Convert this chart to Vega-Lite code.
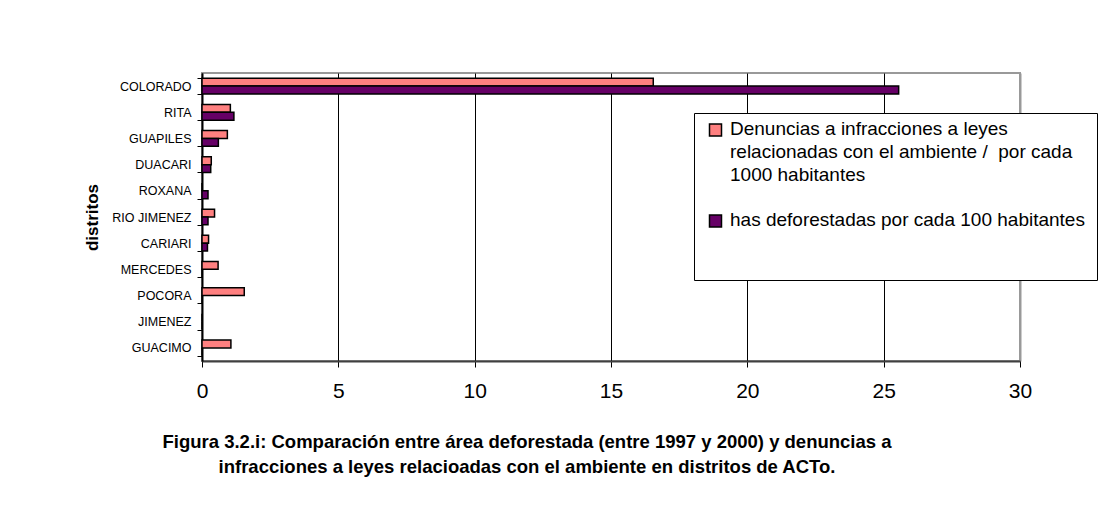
{
  "$schema": "https://vega.github.io/schema/vega-lite/v6.json",
  "width": 818,
  "height": 288,
  "autosize": "none",
  "padding": {"left": 202, "top": 73, "right": 81, "bottom": 157},
  "background": "white",
  "title": {
    "text": ["Figura 3.2.i: Comparación entre área deforestada (entre 1997 y 2000) y denuncias a", "infracciones a leyes relacioadas con el ambiente en distritos de ACTo."],
    "orient": "bottom",
    "anchor": "middle",
    "font": "Liberation Sans",
    "fontSize": 18.5,
    "fontWeight": "bold",
    "color": "black",
    "offset": 32,
    "dx": -84,
    "lineHeight": 25
  },
  "data": {
    "values": [
      {"distrito": "COLORADO", "serie": "Denuncias a infracciones a leyes relacionadas con el ambiente /  por cada 1000 habitantes", "valor": 16.55},
      {"distrito": "COLORADO", "serie": "has deforestadas por cada 100 habitantes", "valor": 25.55},
      {"distrito": "RITA", "serie": "Denuncias a infracciones a leyes relacionadas con el ambiente /  por cada 1000 habitantes", "valor": 1.04},
      {"distrito": "RITA", "serie": "has deforestadas por cada 100 habitantes", "valor": 1.17},
      {"distrito": "GUAPILES", "serie": "Denuncias a infracciones a leyes relacionadas con el ambiente /  por cada 1000 habitantes", "valor": 0.93},
      {"distrito": "GUAPILES", "serie": "has deforestadas por cada 100 habitantes", "valor": 0.6},
      {"distrito": "DUACARI", "serie": "Denuncias a infracciones a leyes relacionadas con el ambiente /  por cada 1000 habitantes", "valor": 0.34},
      {"distrito": "DUACARI", "serie": "has deforestadas por cada 100 habitantes", "valor": 0.32},
      {"distrito": "ROXANA", "serie": "Denuncias a infracciones a leyes relacionadas con el ambiente /  por cada 1000 habitantes", "valor": 0},
      {"distrito": "ROXANA", "serie": "has deforestadas por cada 100 habitantes", "valor": 0.22},
      {"distrito": "RIO JIMENEZ", "serie": "Denuncias a infracciones a leyes relacionadas con el ambiente /  por cada 1000 habitantes", "valor": 0.46},
      {"distrito": "RIO JIMENEZ", "serie": "has deforestadas por cada 100 habitantes", "valor": 0.22},
      {"distrito": "CARIARI", "serie": "Denuncias a infracciones a leyes relacionadas con el ambiente /  por cada 1000 habitantes", "valor": 0.24},
      {"distrito": "CARIARI", "serie": "has deforestadas por cada 100 habitantes", "valor": 0.2},
      {"distrito": "MERCEDES", "serie": "Denuncias a infracciones a leyes relacionadas con el ambiente /  por cada 1000 habitantes", "valor": 0.59},
      {"distrito": "MERCEDES", "serie": "has deforestadas por cada 100 habitantes", "valor": 0},
      {"distrito": "POCORA", "serie": "Denuncias a infracciones a leyes relacionadas con el ambiente /  por cada 1000 habitantes", "valor": 1.55},
      {"distrito": "POCORA", "serie": "has deforestadas por cada 100 habitantes", "valor": 0},
      {"distrito": "JIMENEZ", "serie": "Denuncias a infracciones a leyes relacionadas con el ambiente /  por cada 1000 habitantes", "valor": 0},
      {"distrito": "JIMENEZ", "serie": "has deforestadas por cada 100 habitantes", "valor": 0},
      {"distrito": "GUACIMO", "serie": "Denuncias a infracciones a leyes relacionadas con el ambiente /  por cada 1000 habitantes", "valor": 1.06},
      {"distrito": "GUACIMO", "serie": "has deforestadas por cada 100 habitantes", "valor": 0}
    ]
  },
  "mark": {"type": "bar", "stroke": "black", "strokeWidth": 1.5},
  "encoding": {
    "y": {
      "field": "distrito",
      "type": "nominal",
      "sort": ["COLORADO", "RITA", "GUAPILES", "DUACARI", "ROXANA", "RIO JIMENEZ", "CARIARI", "MERCEDES", "POCORA", "JIMENEZ", "GUACIMO"],
      "scale": {"paddingInner": 0.4, "paddingOuter": 0.2},
      "axis": {
        "title": "distritos",
        "titleFont": "Liberation Sans",
        "titleFontSize": 17,
        "titleFontWeight": "bold",
        "titleColor": "black",
        "titlePadding": 10,
        "domainColor": "black",
        "domainWidth": 2,
        "tickBand": "extent",
        "tickColor": "black",
        "tickSize": 5,
        "tickWidth": 1,
        "labelFont": "Liberation Sans",
        "labelFontSize": 12.5,
        "labelColor": "black",
        "labelPadding": 6,
        "grid": false
      }
    },
    "yOffset": {
      "field": "serie",
      "sort": ["Denuncias a infracciones a leyes relacionadas con el ambiente /  por cada 1000 habitantes", "has deforestadas por cada 100 habitantes"]
    },
    "x": {
      "field": "valor",
      "type": "quantitative",
      "scale": {"domain": [0, 30], "nice": false},
      "axis": {
        "title": null,
        "values": [0, 5, 10, 15, 20, 25, 30],
        "grid": true,
        "gridColor": {"condition": {"test": "datum.value === 30", "value": "#999999"}, "value": "black"},
        "gridWidth": {"condition": {"test": "datum.value === 30", "value": 2}, "value": 1},
        "gridOpacity": 1,
        "domainColor": "#404040",
        "domainWidth": 2,
        "tickColor": "black",
        "tickSize": 6,
        "tickWidth": 1,
        "labelFont": "Liberation Sans",
        "labelFontSize": 21,
        "labelColor": "black",
        "labelPadding": 13,
        "labelFlush": false
      }
    },
    "color": {
      "field": "serie",
      "type": "nominal",
      "scale": {
        "domain": ["Denuncias a infracciones a leyes relacionadas con el ambiente /  por cada 1000 habitantes", "has deforestadas por cada 100 habitantes"],
        "range": ["#FF8080", "#660066"]
      },
      "legend": {
        "title": " ",
        "titleOrient": "bottom",
        "titleFontSize": 2,
        "titlePadding": 36,
        "orient": "none",
        "legendX": 492,
        "legendY": 40,
        "direction": "vertical",
        "strokeColor": "black",
        "fillColor": "white",
        "padding": 12,
        "symbolType": "M-1,-1.75L1,-1.75L1,0.25L-1,0.25Z",
        "symbolSize": 144,
        "symbolStrokeColor": "black",
        "symbolStrokeWidth": 1.5,
        "symbolOpacity": 1,
        "labelFont": "Liberation Sans",
        "labelFontSize": 19,
        "labelColor": "black",
        "labelLimit": 500,
        "labelOffset": 5,
        "labelBaseline": "alphabetic",
        "rowPadding": 25,
        "labelExpr": "datum.index == 0 ? ['Denuncias a infracciones a leyes', 'relacionadas con el ambiente / \u00a0por cada', '1000 habitantes'] : datum.label"
      }
    }
  },
  "config": {
    "view": {"stroke": "#999999", "strokeWidth": 2},
    "font": "Liberation Sans",
    "style": {"guide-label": {"lineHeight": 23}}
  }
}
